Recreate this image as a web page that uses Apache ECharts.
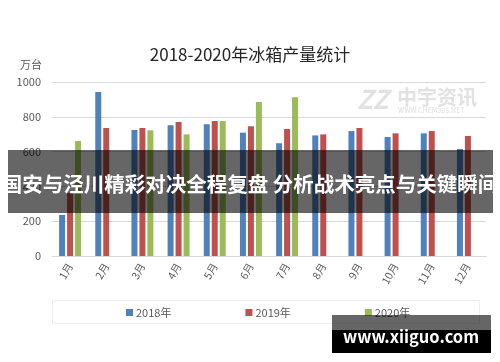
<!DOCTYPE html>
<html><head><meta charset="utf-8">
<script src="https://cdn.jsdelivr.net/npm/echarts@6/dist/echarts.min.js"></script>
<style>html,body{margin:0;padding:0;background:#fff}#c{width:500px;height:362px}</style>
</head><body><div id="c"></div>
<script>
const categories = ['1月','2月','3月','4月','5月','6月','7月','8月','9月','10月','11月','12月'];
const s2018 = [236, 943, 724, 751, 757, 709, 648, 693, 718, 684, 705, 615];
const s2019 = [362, 736, 736, 770, 776, 745, 730, 699, 736, 705, 718, 690];
const s2020 = [661, null, 722, 699, 776, 885, 912, null, null, null, null, null];
const seriesNames = ['2018年','2019年','2020年'];
const yTicks = [0, 200, 400, 600, 800, 1000];

const font = '"Microsoft YaHei","Noto Sans CJK SC","Noto Sans",sans-serif';
const chart = echarts.init(document.getElementById('c'), null, {renderer:'canvas'});
chart.setOption({
  animation: false,
  backgroundColor: '#fff',
  color: ['#4F81BD','#C0504D','#9BBB59'],
  title: {
    text: '2018-2020年冰箱产量统计', left: 'center', top: 41,
    textStyle: {fontFamily: font, fontSize: 17, fontWeight: 'normal', color: '#262626'}
  },
  legend: {
    data: seriesNames, left: 121, top: 302, itemWidth: 7, itemHeight: 7, itemGap: 74,
    icon: 'rect',
    textStyle: {fontFamily: font, fontSize: 11, color: '#595959', padding: [0,0,0,-2]}
  },
  grid: {left: 52, right: 14, top: 82, bottom: 106},
  xAxis: {
    type: 'category', data: categories,
    axisLine: {lineStyle: {color: '#d9d9d9'}},
    axisTick: {show: false},
    axisLabel: {rotate: 60, fontFamily: font, fontSize: 10.5, color: '#595959', margin: 8}
  },
  yAxis: {
    type: 'value', min: 0, max: 1000, interval: 200,
    name: '万台', nameLocation: 'end', nameGap: 12,
    nameTextStyle: {fontFamily: font, fontSize: 11, color: '#595959', align: 'right', padding: [0, 10, 0, 0]},
    axisLine: {show: false}, axisTick: {show: false},
    axisLabel: {fontFamily: font, fontSize: 11, color: '#595959', margin: 11,
      formatter: v => yTicks.includes(v) ? String(v) : ''},
    splitLine: {lineStyle: {color: '#d9d9d9'}}
  },
  series: [
    {name: seriesNames[0], type: 'bar', data: s2018, barWidth: 6, barGap: '33%'},
    {name: seriesNames[1], type: 'bar', data: s2019, barWidth: 6, barGap: '33%'},
    {name: seriesNames[2], type: 'bar', data: s2020, barWidth: 6, barGap: '33%'}
  ],
  graphic: [
    {type: 'rect', shape: {x: 52.5, y: 300.5, width: 427, height: 23}, style: {fill: 'none', stroke: '#eeeeee', lineWidth: 1}, z: 0},
    {type: 'text', left: 357, top: 86, style: {text: 'ZZ', font: 'italic bold 26px ' + font, fill: '#e2e2e2'}, z: 1},
    {type: 'text', left: 397, top: 87, style: {text: '中宇资讯', font: 'bold 20px ' + font, fill: '#e2e2e2'}, z: 1},
    {type: 'text', left: 398, top: 107, style: {text: 'WWW.CHEM365.NET', font: '7px ' + font, fill: '#e0e0e0'}, z: 1},
    {type: 'rect', shape: {x: 8, y: 150, width: 485, height: 63}, style: {fill: 'rgba(0,0,0,0.6)'}, z: 100},
    {type: 'text', x: 250, y: 184, style: {text: '国安与泾川精彩对决全程复盘 分析战术亮点与关键瞬间', font: 'bold 20.5px ' + font, fill: '#fff', align: 'center', verticalAlign: 'middle'}, z: 101},
    {type: 'rect', shape: {x: 332, y: 315, width: 159, height: 15}, style: {fill: 'rgba(0,0,0,0.6)'}, z: 100},
    {type: 'rect', shape: {x: 332, y: 330, width: 159, height: 23}, style: {fill: '#000'}, z: 100},
    {type: 'text', x: 411, y: 337, style: {text: 'www.xiiguo.com', font: 'bold 16.5px ' + font, fill: '#fff', align: 'center', verticalAlign: 'middle'}, z: 101}
  ]
});
</script></body></html>
